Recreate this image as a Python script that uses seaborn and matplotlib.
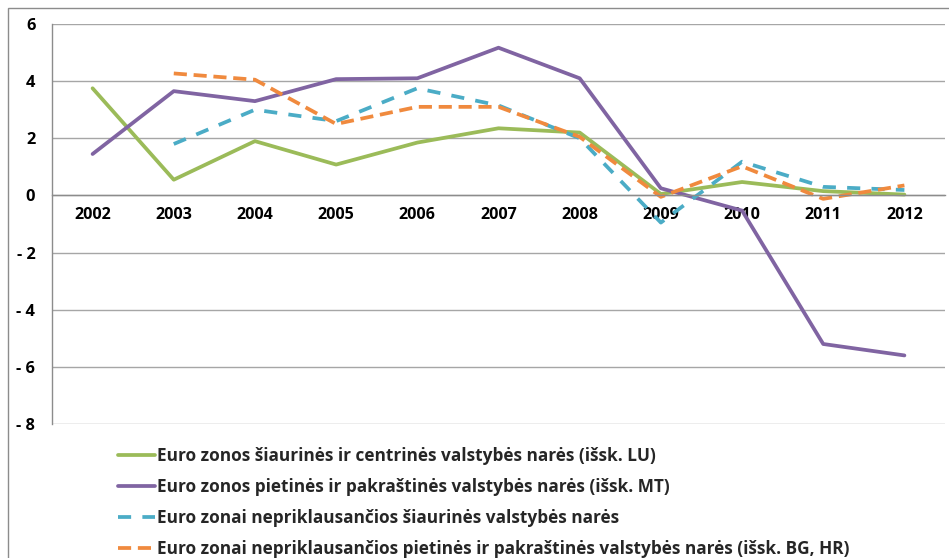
import matplotlib
matplotlib.use("Agg")
import matplotlib.pyplot as plt
import matplotlib.ticker as mticker
from matplotlib.patches import Rectangle
from matplotlib.lines import Line2D
import seaborn as sns
import pandas as pd
import numpy as np

years = [2002, 2003, 2004, 2005, 2006, 2007, 2008, 2009, 2010, 2011, 2012]
series_names = [
    "Euro zonos šiaurinės ir centrinės valstybės narės (išsk. LU)",
    "Euro zonos pietinės ir pakraštinės valstybės narės (išsk. MT)",
    "Euro zonai nepriklausančios šiaurinės valstybės narės",
    "Euro zonai nepriklausančios pietinės ir pakraštinės valstybės narės (išsk. BG, HR)",
]
north_central = [3.75, 0.55, 1.9, 1.08, 1.85, 2.35, 2.2, 0.05, 0.47, 0.15, 0.03]
south_periph = [1.45, 3.65, 3.3, 4.07, 4.1, 5.17, 4.1, 0.25, -0.53, -5.2, -5.6]
non_euro_north = [np.nan, 1.8, 3.0, 2.6, 3.75, 3.15, 2.0, -0.95, 1.18, 0.3, 0.19]
non_euro_south = [np.nan, 4.27, 4.05, 2.5, 3.1, 3.1, 2.05, -0.05, 1.02, -0.12, 0.35]
y_ticks = [6, 4, 2, 0, -2, -4, -6, -8]

colors = ["#9BBB59", "#8064A2", "#4BACC6", "#F08A3E"]

values = [north_central, south_periph, non_euro_north, non_euro_south]
rows = []
for name, vals in zip(series_names, values):
    for yr, v in zip(years, vals):
        rows.append({"year": yr, "value": v, "series": name})
df = pd.DataFrame(rows).dropna()

sns.set_style("white")
plt.rcParams["font.family"] = ["Open Sans", "DejaVu Sans"]

fig = plt.figure(figsize=(9.49, 5.58), dpi=100)
W, H = 949, 558
ax = fig.add_axes([52 / W, 1 - 424 / H, (945 - 52) / W, 400 / H])

lw = 2.7
palette = dict(zip(series_names, colors))
dashes = {
    series_names[0]: "",
    series_names[1]: "",
    series_names[2]: (3.5, 3.0),
    series_names[3]: (3.5, 1.8),
}
sns.lineplot(data=df, x="year", y="value", hue="series", style="series",
             palette=palette, dashes=dashes, linewidth=lw, ax=ax,
             legend=False, sort=True, estimator=None)

ax.set_xlim(years[0] - 0.5, years[-1] + 0.5)
ax.set_ylim(min(y_ticks), max(y_ticks))
ax.set_xlabel("")
ax.set_ylabel("")

gridc = "#a6a6a6"
ax.set_yticks(y_ticks)
ax.yaxis.set_major_formatter(mticker.FuncFormatter(
    lambda v, p: f"- {abs(int(v))}" if v < 0 else f"{int(v)}"))
ax.grid(axis="y", color=gridc, linewidth=1.0)
ax.grid(axis="x", visible=False)
ax.set_axisbelow(True)

for s in ["top", "right"]:
    ax.spines[s].set_visible(False)
ax.spines["left"].set_color("#8c8c8c")
ax.spines["left"].set_linewidth(1.0)
ax.spines["bottom"].set_position(("data", 0))
ax.spines["bottom"].set_color("#8c8c8c")
ax.spines["bottom"].set_linewidth(1.0)

ax.set_xticks(years)
ax.set_xticklabels([str(y) for y in years])
ax.set_xticks([y + 0.5 for y in [years[0] - 1] + years], minor=True)
ax.tick_params(axis="x", which="major", length=0, pad=8.5, labelsize=11.6,
               labelcolor="black")
ax.tick_params(axis="x", which="minor", length=5, width=1, color="#8c8c8c",
               direction="out")
ax.tick_params(axis="y", which="major", length=5, width=1, color="#8c8c8c",
               direction="out", pad=7, labelsize=11.8, labelcolor="black")
for lab in ax.get_xticklabels() + ax.get_yticklabels():
    lab.set_fontweight("bold")

# legend
handles = []
for name in series_names:
    d = dashes[name]
    if d:
        handles.append(Line2D([], [], color=palette[name], linewidth=lw,
                              dashes=d))
    else:
        handles.append(Line2D([], [], color=palette[name], linewidth=lw))
leg = fig.legend(handles, series_names, loc="upper left",
                 bbox_to_anchor=(118 / W, 1 - 447 / H), frameon=False,
                 borderpad=0, borderaxespad=0, handlelength=2.15,
                 handletextpad=0.1, labelspacing=0.76,
                 prop={"family": ["Open Sans", "DejaVu Sans"],
                       "weight": "bold", "size": 12.4})

# outer chart frame
fig.patches.append(Rectangle((8 / W, -0.05), 1.0, 1 - 8 / H + 0.05,
                             transform=fig.transFigure, fill=False,
                             edgecolor="#8c8c8c", linewidth=1.0))

fig.savefig("out.png", dpi=100)
